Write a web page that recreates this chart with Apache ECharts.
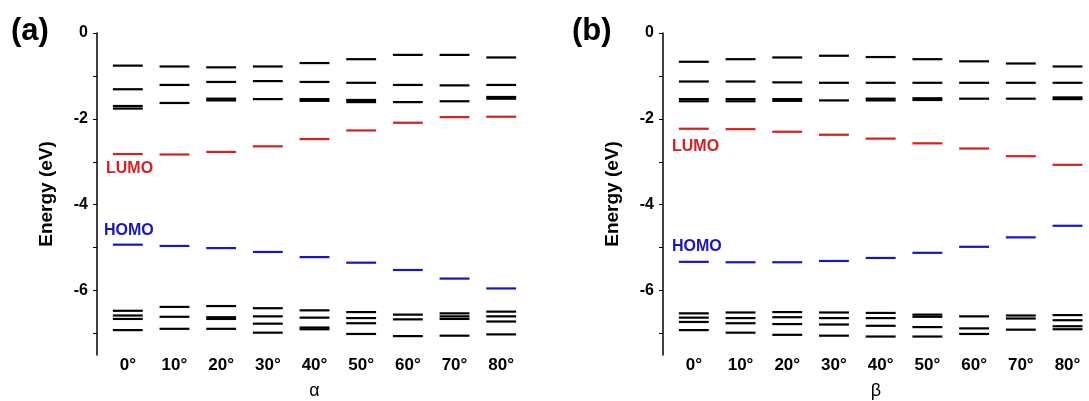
<!DOCTYPE html>
<html>
<head>
<meta charset="utf-8">
<script src="https://cdn.jsdelivr.net/npm/echarts@6/dist/echarts.min.js"></script>
<style>
  html, body { margin: 0; padding: 0; background: #fff; }
  #chart { width: 1089px; height: 401px; }
</style>
</head>
<body>
<div id="chart"></div>
<script>
// angles on the x axis
var angles = [0, 10, 20, 30, 40, 50, 60, 70, 80];
var yTicks = [0, -2, -4, -6];

// panel (a): rotation alpha
var upperA = [
  [-0.76, -1.31, -1.70, -1.76],
  [-0.78, -1.21, -1.63],
  [-0.80, -1.14, -1.53, -1.57],
  [-0.78, -1.12, -1.54],
  [-0.70, -1.14, -1.54, -1.58],
  [-0.61, -1.16, -1.56, -1.61],
  [-0.51, -1.21, -1.61],
  [-0.51, -1.22, -1.59],
  [-0.57, -1.21, -1.49, -1.53]
];
var lumoA = [-2.82, -2.83, -2.77, -2.64, -2.47, -2.27, -2.09, -1.96, -1.95];
var homoA = [-4.93, -4.96, -5.01, -5.10, -5.22, -5.35, -5.52, -5.72, -5.95];
var lowerA = [
  [-6.47, -6.58, -6.66, -6.92],
  [-6.38, -6.61, -6.89],
  [-6.36, -6.62, -6.66, -6.89],
  [-6.41, -6.60, -6.77, -6.98],
  [-6.46, -6.63, -6.86, -6.90],
  [-6.50, -6.64, -6.76, -7.01],
  [-6.56, -6.67, -7.06],
  [-6.53, -6.60, -6.66, -7.05],
  [-6.49, -6.60, -6.72, -7.02]
];

// panel (b): rotation beta
var upperB = [
  [-0.67, -1.13, -1.54, -1.59],
  [-0.61, -1.13, -1.54, -1.59],
  [-0.57, -1.15, -1.54, -1.58],
  [-0.53, -1.16, -1.57],
  [-0.56, -1.16, -1.53, -1.57],
  [-0.61, -1.16, -1.52, -1.56],
  [-0.66, -1.16, -1.53],
  [-0.71, -1.16, -1.53],
  [-0.78, -1.16, -1.50, -1.54]
];
var lumoB = [-2.23, -2.24, -2.30, -2.37, -2.46, -2.57, -2.69, -2.87, -3.07];
var homoB = [-5.33, -5.34, -5.34, -5.31, -5.24, -5.12, -4.98, -4.76, -4.49];
var lowerB = [
  [-6.53, -6.63, -6.73, -6.92],
  [-6.51, -6.64, -6.76, -6.98],
  [-6.50, -6.62, -6.78, -7.03],
  [-6.51, -6.64, -6.79, -7.05],
  [-6.52, -6.64, -6.82, -7.07],
  [-6.56, -6.61, -6.85, -7.07],
  [-6.60, -6.88, -7.01],
  [-6.58, -6.65, -6.91],
  [-6.57, -6.69, -6.83, -6.90]
];

var FONT = "Liberation Sans, Arial, sans-serif";
var HALF = 3.2; // half length of a level, in x units
var RED = "#d81e1e", BLUE = "#1616c8";

function levels(groups) {
  var out = [];
  groups.forEach(function (g, i) {
    g.forEach(function (e) { out.push([angles[i], e]); });
  });
  return out;
}
function single(vals) {
  return vals.map(function (e, i) { return [angles[i], e]; });
}

function levelSeries(idx, data, color) {
  return {
    type: "custom",
    xAxisIndex: idx,
    yAxisIndex: idx,
    silent: true,
    data: data,
    renderItem: function (params, api) {
      var x = api.value(0), y = api.value(1);
      var p1 = api.coord([x - HALF, y]);
      var p2 = api.coord([x + HALF, y]);
      return {
        type: "line",
        shape: { x1: p1[0], y1: p1[1], x2: p2[0], y2: p2[1] },
        style: { stroke: color, lineWidth: 2.2 }
      };
    }
  };
}

function xAxis(idx, max, name) {
  return {
    gridIndex: idx,
    type: "value",
    min: -6.6,
    max: max,
    name: name,
    nameLocation: "middle",
    nameGap: 27,
    nameTextStyle: { fontFamily: FONT, fontSize: 18, color: "#000" },
    axisLine: { show: false },
    axisTick: { show: false },
    splitLine: { show: false },
    axisLabel: {
      customValues: angles,
      formatter: function (v) { return v + "°"; },
      fontFamily: FONT,
      fontWeight: "bold",
      fontSize: 17,
      color: "#000",
      margin: 2
    }
  };
}

function yAxis(idx) {
  return {
    gridIndex: idx,
    type: "value",
    min: -7.5,
    max: 0,
    name: "Energy (eV)",
    nameLocation: "middle",
    nameGap: 41,
    nameTextStyle: { fontFamily: FONT, fontSize: 19, fontWeight: "bold", color: "#000" },
    axisLine: { show: true, onZero: false, lineStyle: { color: "#000", width: 1.5 } },
    axisTick: { show: true, inside: false, length: 4, customValues: [0, -1, -2, -3, -4, -5, -6, -7], lineStyle: { color: "#000" } },
    splitLine: { show: false },
    axisLabel: {
      customValues: yTicks,
      fontFamily: FONT,
      fontWeight: "bold",
      fontSize: 16,
      color: "#000",
      margin: 9
    }
  };
}

var chart = echarts.init(document.getElementById("chart"));
chart.setOption({
  backgroundColor: "#fff",
  animation: false,
  grid: [
    { left: 97, top: 33, width: 435, height: 322, outerBoundsMode: "none", containLabel: false },
    { left: 663, top: 33, width: 426, height: 322, outerBoundsMode: "none", containLabel: false }
  ],
  xAxis: [xAxis(0, 86.6, "α"), xAxis(1, 84.6, "β")],
  yAxis: [yAxis(0), yAxis(1)],
  graphic: [
    { type: "text", left: 11, top: 16, style: { text: "(a)", font: "bold 31px " + FONT, fill: "#000" } },
    { type: "text", left: 572, top: 16, style: { text: "(b)", font: "bold 31px " + FONT, fill: "#000" } },
    { type: "text", left: 106, top: 161, style: { text: "LUMO", font: "bold 16px " + FONT, fill: RED } },
    { type: "text", left: 104, top: 223, style: { text: "HOMO", font: "bold 16px " + FONT, fill: BLUE } },
    { type: "text", left: 672, top: 139, style: { text: "LUMO", font: "bold 16px " + FONT, fill: RED } },
    { type: "text", left: 672, top: 239, style: { text: "HOMO", font: "bold 16px " + FONT, fill: BLUE } }
  ],
  series: [
    levelSeries(0, levels(upperA).concat(levels(lowerA)), "#000"),
    levelSeries(0, single(lumoA), RED),
    levelSeries(0, single(homoA), BLUE),
    levelSeries(1, levels(upperB).concat(levels(lowerB)), "#000"),
    levelSeries(1, single(lumoB), RED),
    levelSeries(1, single(homoB), BLUE)
  ]
});
</script>
</body>
</html>
